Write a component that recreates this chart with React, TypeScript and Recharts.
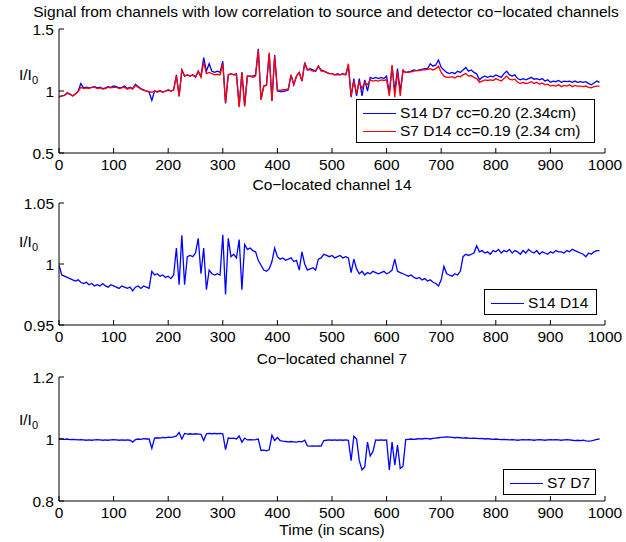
import React from 'react';
import { LineChart, Line, XAxis, YAxis, Legend } from 'recharts';

// sample index (scan number) every 5 scans, 0..990
const scans: number[] = Array.from({ length: 199 }, (_, i) => i * 5);
const xTicks = [0, 100, 200, 300, 400, 500, 600, 700, 800, 900, 1000];

const mainTitle = 'Signal from channels with low correlation to source and detector co\u2212located channels';
const title14 = 'Co\u2212located channel 14';
const title7 = 'Co\u2212located channel 7';
const xLabel = 'Time (in scans)';

const label1a = 'S14 D7 cc=0.20 (2.34cm)';
const label1b = 'S7 D14 cc=0.19 (2.34 cm)';
const label2 = 'S14 D14';
const label3 = 'S7 D7';

const yTicks1 = [0.5, 1, 1.5];
const yTicks2 = [0.95, 1, 1.05];
const yTicks3 = [0.8, 1, 1.2];

const s14d7 = [
  0.95, 0.96, 0.965, 0.985, 0.975, 0.96, 0.975, 1.0, 1.06, 1.025,
  1.03, 1.025, 1.03, 1.035, 1.025, 1.03, 1.02, 1.025, 1.035, 1.03,
  1.04, 1.035, 1.025, 1.03, 1.04, 1.02, 1.03, 1.02, 1.055, 1.035,
  1.02, 1.01, 1.0, 0.99, 0.925, 1.0, 0.995, 1.005, 0.99, 1.0,
  1.01, 1.0, 1.01, 1.13, 0.96, 1.17, 1.12, 1.13, 1.12, 1.13,
  1.11, 1.16, 1.12, 1.27, 1.16, 1.22, 1.16, 1.15, 1.16, 1.15,
  1.24, 0.9, 1.13, 1.14, 1.13, 1.14, 0.88, 1.15, 0.88, 1.12,
  1.12, 1.12, 1.13, 1.34, 0.93, 1.04, 1.05, 1.3, 0.92, 1.29,
  1.0, 0.995, 0.995, 1.0, 1.01, 1.13, 1.05, 1.12, 1.15, 1.08,
  1.23, 1.17, 1.18, 1.17, 1.16, 1.2, 1.17, 1.16, 1.15, 1.14,
  1.14, 1.13, 1.14, 1.13, 1.14, 1.13, 1.2, 0.95, 1.1, 0.96,
  1.1, 0.96, 1.09, 1.0, 1.11, 1.1, 1.11, 1.1, 1.11, 1.1,
  1.12, 0.98, 1.2, 1.0, 1.18, 1.0, 1.16, 1.15, 1.155, 1.16,
  1.17, 1.165, 1.17, 1.175, 1.18, 1.18, 1.22, 1.2, 1.21, 1.25,
  1.19, 1.17, 1.15, 1.14, 1.15, 1.14, 1.16, 1.15, 1.17, 1.19,
  1.16, 1.17, 1.15, 1.14, 1.09, 1.11, 1.12, 1.11, 1.12, 1.115,
  1.13, 1.12, 1.11, 1.14, 1.16, 1.13, 1.12, 1.13, 1.1, 1.09,
  1.1, 1.09, 1.1, 1.11, 1.095, 1.1, 1.09, 1.1, 1.08, 1.09,
  1.07, 1.08, 1.075, 1.085, 1.07, 1.08, 1.075, 1.08, 1.07, 1.08,
  1.07, 1.075, 1.07, 1.075, 1.06, 1.05, 1.065, 1.08, 1.07,
];

const s7d14 = [
  0.955, 0.96, 0.965, 0.98, 0.975, 0.962, 0.975, 0.995, 1.03, 1.02,
  1.025, 1.02, 1.03, 1.03, 1.02, 1.025, 1.015, 1.02, 1.03, 1.025,
  1.03, 1.03, 1.02, 1.025, 1.03, 1.015, 1.025, 1.015, 1.045, 1.03,
  1.015, 1.005, 1.0, 0.995, 0.99, 1.0, 0.99, 1.0, 0.99, 1.0,
  1.005, 1.0, 1.01, 1.12, 0.955, 1.17, 1.12, 1.13, 1.12, 1.13,
  1.115, 1.16, 1.11, 1.23, 1.14, 1.15, 1.14, 1.13, 1.135, 1.13,
  1.22, 0.905, 1.13, 1.14, 1.13, 1.13, 0.87, 1.15, 0.875, 1.12,
  1.12, 1.11, 1.12, 1.33, 0.93, 1.04, 1.045, 1.31, 0.92, 1.28,
  1.01, 1.005, 1.01, 1.01, 1.02, 1.13, 1.05, 1.12, 1.15, 1.08,
  1.22, 1.17, 1.17, 1.16, 1.16, 1.2, 1.16, 1.16, 1.15, 1.14,
  1.14, 1.13, 1.13, 1.13, 1.14, 1.13, 1.22, 0.96, 1.08, 0.98,
  1.07, 1.02, 1.07, 1.05, 1.09, 1.08, 1.085, 1.08, 1.09, 1.085,
  1.09, 0.96, 1.21, 0.95, 1.16, 0.96, 1.17, 1.15, 1.15, 1.155,
  1.16, 1.165, 1.165, 1.17, 1.17, 1.175, 1.18, 1.17, 1.18, 1.2,
  1.15, 1.12, 1.11, 1.11, 1.115, 1.105, 1.12, 1.115, 1.13, 1.14,
  1.12, 1.125, 1.11, 1.1, 1.07, 1.08, 1.09, 1.085, 1.09, 1.085,
  1.1, 1.09, 1.08, 1.1, 1.12, 1.095, 1.09, 1.095, 1.07, 1.06,
  1.07, 1.06, 1.065, 1.075, 1.06, 1.07, 1.055, 1.065, 1.05, 1.055,
  1.04, 1.045, 1.04, 1.05, 1.035, 1.045, 1.04, 1.05, 1.035, 1.045,
  1.04, 1.04, 1.035, 1.04, 1.03, 1.025, 1.035, 1.04, 1.04,
];

const s14d14 = [
  0.999, 0.991, 0.99, 0.989, 0.988, 0.987, 0.986, 0.987, 0.985, 0.984,
  0.985, 0.983, 0.984, 0.982, 0.983, 0.982, 0.984, 0.982, 0.981, 0.983,
  0.982, 0.981, 0.98, 0.982, 0.981, 0.98, 0.981, 0.978, 0.981, 0.982,
  0.98, 0.982, 0.981, 0.98, 0.994, 0.991, 0.992, 0.99, 0.991, 0.989,
  0.99, 0.988, 0.991, 1.013, 0.983, 1.0235, 0.983, 1.006, 1.007, 1.006,
  1.009, 1.021, 0.992, 1.013, 0.979, 0.995, 0.992, 0.991, 0.992, 0.991,
  1.024, 0.975, 1.021, 1.006, 1.008, 1.005, 1.02, 0.979, 1.016, 1.012,
  1.013, 1.011, 1.01, 1.003, 0.999, 0.995, 0.994, 0.996, 1.002, 1.013,
  1.006, 1.004, 1.005, 1.003, 1.004, 1.005, 1.002, 1.003, 0.995, 1.01,
  1.0, 0.995, 0.996, 0.997, 0.995, 1.004, 1.005, 1.008, 1.007, 1.006,
  1.007, 1.005, 1.006, 1.007, 1.005, 1.006, 1.005, 0.993, 1.004, 0.996,
  0.992, 0.994, 0.991, 0.993, 0.992, 0.994, 0.993, 0.992, 0.993, 0.994,
  0.992, 0.993, 0.995, 1.004, 0.994, 0.993, 0.992, 0.991, 0.99, 0.991,
  0.989, 0.988, 0.989, 0.987, 0.988, 0.986, 0.987, 0.985, 0.984, 0.982,
  0.987, 0.998, 0.992, 0.991, 0.99, 0.992, 0.991, 0.994, 1.006, 1.008,
  1.007, 1.008, 1.009, 1.015, 1.01, 1.011, 1.009, 1.01, 1.008, 1.011,
  1.01, 1.012, 1.009, 1.011, 1.01, 1.012, 1.009, 1.011, 1.01, 1.008,
  1.011, 1.009, 1.012, 1.01, 1.009, 1.011, 1.008, 1.01, 1.009, 1.008,
  1.01, 1.009, 1.011, 1.01, 1.01, 1.009, 1.011, 1.01, 1.012, 1.011,
  1.01, 1.009, 1.008, 1.006, 1.009, 1.008, 1.01, 1.011, 1.011,
];

const s7d7 = [
  1.0, 1.0, 0.999, 1.0, 0.998, 0.999, 0.998, 0.997, 0.998, 0.997,
  0.996, 0.997, 0.996, 0.997, 0.998, 0.997, 0.996, 0.997, 0.996, 0.997,
  0.998, 0.997, 0.996, 0.997, 0.996, 0.997, 0.996, 0.99, 0.998, 1.0,
  0.999, 1.001, 1.0, 1.0, 0.97, 1.003, 1.004, 1.003, 1.005, 1.004,
  1.006, 1.005, 1.007, 1.01, 1.021, 1.0, 1.018, 1.016, 1.017, 1.016,
  1.017, 1.016, 1.015, 0.995, 1.017, 1.018, 1.017, 1.018, 1.017, 1.018,
  1.017, 0.966, 1.003, 1.002, 1.003, 1.0, 1.01, 0.99, 1.003, 0.997,
  0.998, 0.997, 0.998, 1.0, 0.963, 0.964, 0.962, 0.965, 1.012, 0.995,
  1.005, 0.995, 0.993, 0.992, 0.991, 0.992, 0.991, 0.99, 0.992, 0.991,
  0.996, 0.978, 0.977, 0.978, 0.977, 0.978, 0.977, 0.995, 0.996, 0.997,
  0.996, 0.997, 0.996, 0.997, 0.996, 0.997, 0.996, 0.93, 1.009, 1.0,
  0.93, 0.9, 0.91, 0.99, 0.945, 0.96, 0.997, 0.996, 0.997, 0.996,
  0.997, 0.9, 0.99, 0.916, 0.98, 0.905, 0.912, 0.998, 0.999, 1.0,
  0.999, 1.0, 1.001, 1.0, 1.002, 1.001, 1.0, 1.002, 1.003, 1.004,
  1.005, 1.006, 1.007, 1.006, 1.005, 1.004, 1.005, 1.004, 1.003, 1.004,
  1.003, 1.002, 1.003, 1.002, 1.001, 1.002, 1.0, 1.001, 1.0, 0.999,
  1.0, 0.999, 0.998, 0.999, 0.998, 0.997, 0.998, 0.997, 0.996, 0.997,
  0.998, 0.997, 0.998, 0.997, 0.996, 0.997, 0.998, 0.997, 0.996, 0.997,
  0.998, 0.997, 0.998, 0.997, 0.996, 0.997, 0.998, 0.997, 0.996, 0.995,
  0.996, 0.995, 0.996, 0.994, 0.993, 0.994, 0.996, 0.999, 1.0,
];

const BLUE = '#0000ff';
const RED = '#ff0000';
const FONT = '"Liberation Sans", Arial, Helvetica, sans-serif';
const FS = 15.5;

const W = 626;
const PLOT_LEFT = 59;
const PLOT_RIGHT = 605;
const YAXIS_W = 40;
const XAXIS_H = 25;

type Series = { key: string; values: number[]; color: string; label: string };

type PanelProps = {
  top: number;
  height: number;
  plotTop: number;
  plotBottom: number;
  domain: [number, number];
  yTicks: number[];
  series: Series[];
  legendLeft: number;
  legendTop: number;
  legendWidth: number;
  legendRowH: number;
};

const tickStyle = { fill: '#000', fontSize: FS, fontFamily: FONT };

function Panel(p: PanelProps) {
  const data = scans.map((s, i) => {
    const row: Record<string, number> = { scan: s };
    p.series.forEach((se) => {
      row[se.key] = se.values[i];
    });
    return row;
  });
  const margin = {
    top: p.plotTop - p.top,
    right: W - PLOT_RIGHT,
    left: PLOT_LEFT - YAXIS_W,
    bottom: p.top + p.height - p.plotBottom - XAXIS_H,
  };
  const legendH = p.series.length * p.legendRowH + 8;
  const renderLegend = () => (
    <div
      style={{
        width: p.legendWidth,
        height: legendH,
        boxSizing: 'border-box',
        border: '1px solid #000',
        background: '#fff',
        position: 'relative',
        fontFamily: FONT,
        fontSize: FS,
        color: '#000',
      }}
    >
      {p.series.map((se, i) => (
        <div
          key={se.key}
          style={{
            position: 'absolute',
            left: 6,
            top: 4 + i * p.legendRowH,
            height: p.legendRowH,
            display: 'flex',
            alignItems: 'center',
            whiteSpace: 'nowrap',
          }}
        >
          <span style={{ display: 'inline-block', width: 33, height: 0, borderTop: `1px solid ${se.color}` }} />
          <span style={{ marginLeft: 4, lineHeight: '16px' }}>{se.label}</span>
        </div>
      ))}
    </div>
  );
  const axisColor = { stroke: '#000', strokeWidth: 1 };
  return (
    <div style={{ position: 'absolute', left: 0, top: p.top }}>
      <LineChart width={W} height={p.height} data={data} margin={margin}>
        <XAxis
          xAxisId="b"
          dataKey="scan"
          type="number"
          domain={[0, 1000]}
          ticks={xTicks}
          interval={0}
          orientation="bottom"
          height={XAXIS_H}
          tickSize={-5}
          tickMargin={11}
          axisLine={axisColor}
          tickLine={axisColor}
          tick={tickStyle}
          allowDataOverflow
        />
        <XAxis
          xAxisId="t"
          dataKey="scan"
          type="number"
          domain={[0, 1000]}
          ticks={xTicks}
          interval={0}
          orientation="top"
          height={0}
          tickSize={-5}
          axisLine={axisColor}
          tickLine={axisColor}
          tick={false}
          allowDataOverflow
        />
        <YAxis
          yAxisId="l"
          type="number"
          domain={p.domain}
          ticks={p.yTicks}
          interval={0}
          width={YAXIS_W}
          tickSize={-5}
          tickMargin={10}
          axisLine={axisColor}
          tickLine={axisColor}
          tick={tickStyle}
          tickFormatter={(v: number) => String(v)}
          allowDataOverflow
        />
        <YAxis
          yAxisId="r"
          orientation="right"
          type="number"
          domain={p.domain}
          ticks={p.yTicks}
          interval={0}
          width={0}
          tickSize={-5}
          axisLine={axisColor}
          tickLine={axisColor}
          tick={false}
          allowDataOverflow
        />
        {p.series.map((se) => (
          <Line
            key={se.key}
            xAxisId="b"
            yAxisId="l"
            type="linear"
            dataKey={se.key}
            stroke={se.color}
            strokeWidth={1.3}
            dot={false}
            activeDot={false}
            isAnimationActive={false}
          />
        ))}
        <Legend
          layout="horizontal"
          verticalAlign="middle"
          align="center"
          content={renderLegend}
          wrapperStyle={{ left: p.legendLeft, top: p.legendTop - p.top, width: p.legendWidth, height: legendH }}
        />
      </LineChart>
    </div>
  );
}

function CenterText({ text, cy, cx }: { text: string; cy: number; cx: number }) {
  return (
    <div
      style={{
        position: 'absolute',
        left: cx - 400,
        width: 800,
        top: cy - 9,
        height: 18,
        lineHeight: '18px',
        textAlign: 'center',
        fontFamily: FONT,
        fontSize: FS,
        color: '#000',
        whiteSpace: 'nowrap',
      }}
    >
      {text}
    </div>
  );
}

function YLab({ cy }: { cy: number }) {
  return (
    <div
      style={{
        position: 'absolute',
        left: 19,
        top: cy - 9,
        height: 18,
        lineHeight: '18px',
        fontFamily: FONT,
        fontSize: FS,
        color: '#000',
        whiteSpace: 'nowrap',
      }}
    >
      I/I<span style={{ fontSize: 11, position: 'relative', top: 4 }}>0</span>
    </div>
  );
}

export default function App() {
  return (
    <div
      style={{
        position: 'absolute',
        left: 0,
        top: 0,
        width: W,
        height: 542,
        background: '#fff',
        overflow: 'hidden',
        fontFamily: FONT,
      }}
    >
      <Panel
        top={0}
        height={180}
        plotTop={29}
        plotBottom={153}
        domain={[0.5, 1.5]}
        yTicks={yTicks1}
        series={[
          { key: 'a', values: s14d7, color: BLUE, label: label1a },
          { key: 'b', values: s7d14, color: RED, label: label1b },
        ]}
        legendLeft={356}
        legendTop={99}
        legendWidth={239}
        legendRowH={18}
      />
      <Panel
        top={176}
        height={180}
        plotTop={203}
        plotBottom={325}
        domain={[0.95, 1.05]}
        yTicks={yTicks2}
        series={[{ key: 'a', values: s14d14, color: BLUE, label: label2 }]}
        legendLeft={484}
        legendTop={289}
        legendWidth={113}
        legendRowH={18}
      />
      <Panel
        top={350}
        height={180}
        plotTop={377}
        plotBottom={501}
        domain={[0.8, 1.2]}
        yTicks={yTicks3}
        series={[{ key: 'a', values: s7d7, color: BLUE, label: label3 }]}
        legendLeft={503}
        legendTop={469}
        legendWidth={93}
        legendRowH={18}
      />
      <CenterText text={mainTitle} cy={12} cx={326} />
      <CenterText text={title14} cy={185} cx={332} />
      <CenterText text={title7} cy={359} cx={332} />
      <CenterText text={xLabel} cy={530} cx={332} />
      <YLab cy={75} />
      <YLab cy={242} />
      <YLab cy={420} />
    </div>
  );
}
